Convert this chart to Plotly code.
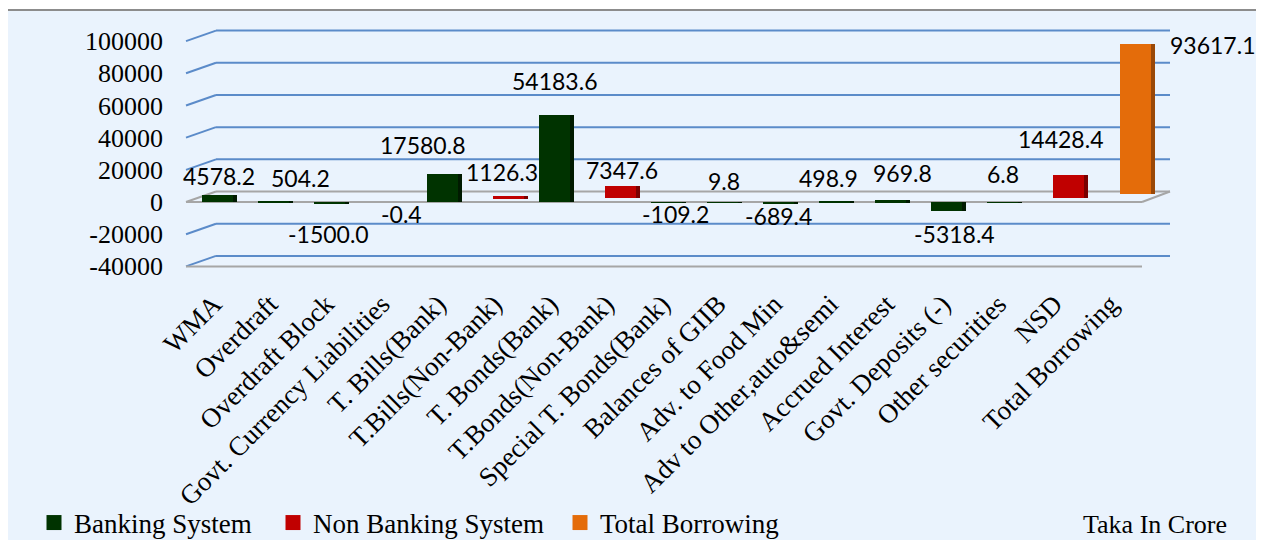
import plotly.graph_objects as go

# ---------------- data ----------------
CATEGORIES = ["WMA", "Overdraft", "Overdraft Block", "Govt. Currency Liabilities",
              "T. Bills(Bank)", "T.Bills(Non-Bank)", "T. Bonds(Bank)", "T.Bonds(Non-Bank)",
              "Special T. Bonds(Bank)", "Balances of GIIB", "Adv. to Food Min",
              "Adv to Other,auto&semi", "Accrued Interest", "Govt. Deposits (-)",
              "Other securities", "NSD", "Total Borrowing"]
BANKING = [4578.2, 504.2, -1500.0, -0.4, 17580.8, None, 54183.6, None,
           -109.2, 9.8, -689.4, 498.9, 969.8, -5318.4, 6.8, None, None]
NON_BANKING = [None, None, None, None, None, 1126.3, None, 7347.6,
               None, None, None, None, None, None, None, 14428.4, None]
TOTAL = [None] * 16 + [93617.1]
Y_TICKS = [-40000, -20000, 0, 20000, 40000, 60000, 80000, 100000]
Y_TICK_TEXT = ["-40000", "-20000", "0", "20000", "40000", "60000", "80000", "100000"]
SERIES_NAMES = ["Banking System", "Non Banking System", "Total Borrowing"]

# label nudges (pixels) relative to the bar end: (dx, dy)
LABEL_NUDGE = [(1, 18.5), (27, 23), (-1, -29.4), (16, -11.8), (-19.5, 28.4), (-6, 24),
               (0, 34), (2, 16), (9, -12), (1.4, 21), (0.4, -13), (-6, 23), (12, 27),
               (8.5, -23.6), (0, 27.7), (-8, 36), (77, -1)]

# ---------------- geometry / style ----------------
OFF = 8  # page body margin
W, H = 1264 - OFF, 540 - OFF


def fx(px):  # screen x -> figure x
    return px - OFF


def fy(py):  # screen y -> figure y
    return py - OFF


PLOT_L, PLOT_R = fx(186), fx(1170)
FRONT_R = fx(1142)
BACK_DX, BACK_DY = 30, 10.5
ZERO_PX = fy(201.7)
PX_PER_VAL = 32.14 / 20000
Y_RANGE = [-41000, 110000]
PLOT_T = ZERO_PX - Y_RANGE[1] * PX_PER_VAL
PLOT_B = ZERO_PX - Y_RANGE[0] * PX_PER_VAL
PLOT_W = PLOT_R - PLOT_L
PLOT_H = PLOT_B - PLOT_T
CAT0_PX, CAT_STEP = fx(217.8), 56.05
X_RANGE = [(PLOT_L - CAT0_PX) / CAT_STEP, (PLOT_R - CAT0_PX) / CAT_STEP]
BAR_W = 31 / CAT_STEP
SIDE = 4 / CAT_STEP

# depth rows: (x shift px, y shift px)
DEPTH = [(0, 0), (10, 3.9), (20.4, 7.7)]
COLORS = ["#003300", "#C00000", "#E46C0A"]
SIDE_COLORS = ["#001a00", "#7a0000", "#9a4807"]

BG = "#EAF3FD"
GRID = "#5B8BC9"
FLOOR = "#A6A6A6"
SERIF = "Liberation Serif"


def px_x(px):
    return (px - PLOT_L) / PLOT_W


def px_y(py):
    return (PLOT_B - py) / PLOT_H


fig = go.Figure()
series = [BANKING, NON_BANKING, TOTAL]
axis_ids = [("x", "y"), ("x2", "y2"), ("x3", "y3")]

for k, vals in enumerate(series):
    xa, ya = axis_ids[k]
    fig.add_trace(go.Bar(x=CATEGORIES, y=vals, xaxis=xa, yaxis=ya, width=BAR_W,
                         offset=-BAR_W / 2 + SIDE, marker_color=SIDE_COLORS[k],
                         marker_line_width=0, showlegend=False, hoverinfo="skip"))
    fig.add_trace(go.Bar(x=CATEGORIES, y=vals, xaxis=xa, yaxis=ya, width=BAR_W,
                         offset=-BAR_W / 2, marker_color=COLORS[k], marker_line_width=0,
                         name=SERIES_NAMES[k], legendgroup=SERIES_NAMES[k], showlegend=False))
    # legend entry
    fig.add_trace(go.Scatter(x=[None], y=[None], mode="markers", name=SERIES_NAMES[k],
                             legendgroup=SERIES_NAMES[k],
                             marker=dict(symbol="square", size=15, color=COLORS[k]),
                             legend=["legend", "legend2", "legend3"][k]))

# data labels
annotations = []
for k, vals in enumerate(series):
    xa, ya = axis_ids[k]
    for i, v in enumerate(vals):
        if v is None:
            continue
        dx, dy = LABEL_NUDGE[i]
        annotations.append(dict(x=CATEGORIES[i], y=v, xref=xa, yref=ya, text=f"{v:.1f}",
                                showarrow=False, xanchor="center", yanchor="middle",
                                xshift=dx, yshift=dy,
                                font=dict(family="Lato", size=23, color="black")))

annotations.append(dict(x=px_x(fx(1155)), y=px_y(fy(524)), xref="paper", yref="paper",
                        text="Taka In Crore", showarrow=False, xanchor="center",
                        yanchor="middle", font=dict(family=SERIF, size=26, color="black")))

# shapes: frame, back-wall gridlines, floor
shapes = [dict(type="rect", xref="paper", yref="paper", x0=px_x(fx(7)), x1=px_x(fx(1262)),
               y0=px_y(fy(570)), y1=px_y(fy(10)), fillcolor=BG,
               line=dict(color="#8C8C8C", width=2), layer="below")]
bx = px_x(PLOT_L + BACK_DX)
for t in Y_TICKS:
    col = FLOOR if t == 0 else GRID
    shapes.append(dict(type="line", xref="paper", yref="y", ysizemode="pixel", yanchor=t,
                       x0=0, x1=bx, y0=0, y1=BACK_DY, line=dict(color=col, width=2),
                       layer="below"))
    shapes.append(dict(type="line", xref="paper", yref="y", ysizemode="pixel", yanchor=t,
                       x0=bx, x1=1, y0=BACK_DY, y1=BACK_DY, line=dict(color=col, width=2),
                       layer="below"))
for t in (0, Y_TICKS[0]):
    shapes.append(dict(type="line", xref="paper", yref="y", ysizemode="pixel", yanchor=t,
                       x0=0, x1=px_x(FRONT_R), y0=0, y1=0, line=dict(color=FLOOR, width=2),
                       layer="below"))
shapes.append(dict(type="line", xref="paper", yref="y", ysizemode="pixel", yanchor=0,
                   x0=px_x(FRONT_R), x1=1, y0=0, y1=BACK_DY, line=dict(color=FLOOR, width=2),
                   layer="below"))

common_x = dict(type="category", categoryorder="array", categoryarray=CATEGORIES,
                showgrid=False, zeroline=False, showline=False)
layout_axes = {}
for k in range(3):
    sx = DEPTH[k][0] / CAT_STEP
    sy = DEPTH[k][1] / PX_PER_VAL
    xr = [X_RANGE[0] - sx, X_RANGE[1] - sx]
    yr = [Y_RANGE[0] - sy, Y_RANGE[1] - sy]
    xname = "xaxis" if k == 0 else f"xaxis{k + 1}"
    yname = "yaxis" if k == 0 else f"yaxis{k + 1}"
    if k == 0:
        layout_axes[xname] = dict(common_x, range=xr, tickangle=-45, ticks="",
                                  ticklabelstandoff=14, ticklabelshift=-4,
                                  tickfont=dict(family=SERIF, size=27, color="black"))
        layout_axes[yname] = dict(range=yr, tickvals=Y_TICKS, ticktext=Y_TICK_TEXT, ticks="",
                                  showgrid=False, zeroline=False, showline=False,
                                  ticklabelstandoff=22,
                                  tickfont=dict(family=SERIF, size=26, color="black"))
    else:
        layout_axes[xname] = dict(common_x, range=xr, overlaying="x", visible=False,
                                  anchor=f"y{k + 1}")
        layout_axes[yname] = dict(range=yr, overlaying="y", visible=False,
                                  showgrid=False, zeroline=False, anchor=f"x{k + 1}")

legend_common = dict(orientation="h", xref="container", yref="container", yanchor="middle",
                     bgcolor="rgba(0,0,0,0)", font=dict(family=SERIF, size=27, color="black"))
LEG_Y = (H - fy(523)) / H

fig.update_layout(
    width=W, height=H,
    margin=dict(l=PLOT_L, r=W - PLOT_R, t=PLOT_T, b=H - PLOT_B, autoexpand=False),
    paper_bgcolor="white", plot_bgcolor="rgba(0,0,0,0)",
    barmode="overlay", bargap=0,
    shapes=shapes, annotations=annotations,
    legend=dict(legend_common, x=fx(34) / W, y=LEG_Y),
    legend2=dict(legend_common, x=fx(273) / W, y=LEG_Y),
    legend3=dict(legend_common, x=fx(560) / W, y=LEG_Y),
    **layout_axes,
)

fig.write_html("out.html")
